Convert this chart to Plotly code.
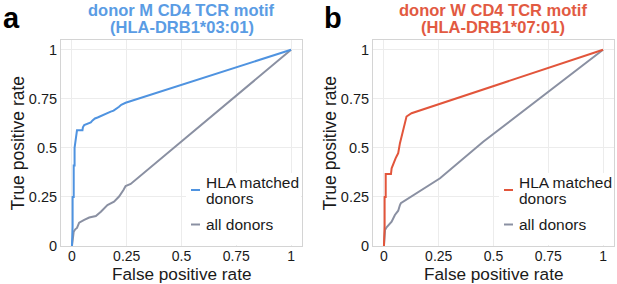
import plotly.graph_objects as go

W, H = 617, 284

# ---- data ----
tick_vals = [0, 0.25, 0.5, 0.75, 1]
tick_text = ["0", "0.25", "0.5", "0.75", "1"]

# panel a: donor M CD4 TCR motif (HLA-DRB1*03:01)
fpr_m_hla = [0, 0.003, 0.003, 0.008, 0.008, 0.012, 0.012, 0.018, 0.020, 0.023, 0.048, 0.050,
             0.056, 0.064, 0.075, 0.086, 0.094, 0.105, 0.117, 0.140, 0.155, 0.177, 0.190,
             0.205, 0.215, 0.225, 0.245, 1.0]
tpr_m_hla = [0, 0.10, 0.25, 0.25, 0.41, 0.41, 0.50, 0.54, 0.56, 0.59, 0.59, 0.605,
             0.617, 0.62, 0.625, 0.63, 0.64, 0.65, 0.655, 0.668, 0.675, 0.685, 0.69,
             0.70, 0.71, 0.72, 0.73, 1.0]
fpr_m_all = [0, 0.003, 0.008, 0.015, 0.023, 0.033, 0.045, 0.056, 0.079, 0.109, 0.132,
             0.162, 0.192, 0.215, 0.235, 0.245, 0.268, 1.0]
tpr_m_all = [0, 0.04, 0.073, 0.085, 0.092, 0.119, 0.128, 0.133, 0.145, 0.153, 0.175,
             0.209, 0.226, 0.252, 0.285, 0.306, 0.316, 1.0]

# panel b: donor W CD4 TCR motif (HLA-DRB1*07:01)
fpr_w_hla = [0, 0.003, 0.003, 0.008, 0.008, 0.032, 0.035, 0.042, 0.053, 0.059, 0.065,
             0.073, 0.080, 0.088, 0.095, 0.103, 0.126, 1.0]
tpr_w_hla = [0, 0.10, 0.25, 0.25, 0.367, 0.367, 0.396, 0.42, 0.447, 0.46, 0.473,
             0.524, 0.558, 0.59, 0.634, 0.66, 0.677, 1.0]
fpr_w_all = [0, 0.003, 0.005, 0.012, 0.020, 0.035, 0.050, 0.065, 0.073, 0.077, 0.256,
             0.453, 1.0]
tpr_w_all = [0, 0.05, 0.082, 0.095, 0.107, 0.124, 0.158, 0.180, 0.209, 0.218, 0.345,
             0.531, 1.0]

legend_labels = ["HLA matched", "donors", "all donors"]
titles_a = ["donor M CD4 TCR motif", "(HLA-DRB1*03:01)"]
titles_b = ["donor W CD4 TCR motif", "(HLA-DRB1*07:01)"]

# ---- styling ----
BLUE = "#4F93E0"
RED = "#E2553B"
GRAY = "#8A90A2"
BLUE_T = "#5A9CE4"
RED_T = "#E25A42"
FONT = "Liberation Sans, Arial, Helvetica, sans-serif"
TXT = "#1a1a1a"


def px(x):
    return x / W


def py(y):
    return 1 - y / H


fig = go.Figure()
fig.add_trace(go.Scatter(x=fpr_m_all, y=tpr_m_all, mode="lines", line=dict(color=GRAY, width=2),
                         xaxis="x", yaxis="y", showlegend=False, name="all donors"))
fig.add_trace(go.Scatter(x=fpr_m_hla, y=tpr_m_hla, mode="lines", line=dict(color=BLUE, width=2),
                         xaxis="x", yaxis="y", showlegend=False, name="HLA matched donors"))
fig.add_trace(go.Scatter(x=fpr_w_all, y=tpr_w_all, mode="lines", line=dict(color=GRAY, width=2),
                         xaxis="x2", yaxis="y2", showlegend=False, name="all donors"))
fig.add_trace(go.Scatter(x=fpr_w_hla, y=tpr_w_hla, mode="lines", line=dict(color=RED, width=2),
                         xaxis="x2", yaxis="y2", showlegend=False, name="HLA matched donors"))

panels = [
    # (x-left px, x-right px, x offset px)
    (61, 302, 0),
    (373, 614, 313),
]

ax_common = dict(
    range=[-0.05, 1.05], tickvals=tick_vals, ticktext=tick_text, automargin=False,
    showline=True, mirror=True, linecolor="#d4d4d4", linewidth=1,
    showgrid=True, gridcolor="#ececec", gridwidth=1, zeroline=False,
    ticks="", ticklabelstandoff=-3,
    tickfont=dict(family=FONT, size=14, color=TXT), fixedrange=True,
)
ay_common = dict(
    range=[0, 1.05], tickvals=tick_vals, ticktext=tick_text, automargin=False,
    showline=True, mirror=True, linecolor="#d4d4d4", linewidth=1,
    showgrid=True, gridcolor="#ececec", gridwidth=1, zeroline=False,
    ticks="", tickfont=dict(family=FONT, size=14.5, color=TXT), fixedrange=True,
)

ydom = [py(246), py(40)]
fig.update_layout(
    width=W, height=H, margin=dict(l=0, r=0, t=0, b=0, autoexpand=False),
    paper_bgcolor="white", plot_bgcolor="white", showlegend=False,
    xaxis=dict(domain=[px(61), px(302)], anchor="y", **ax_common),
    yaxis=dict(domain=ydom, anchor="x", **ay_common),
    xaxis2=dict(domain=[px(373), px(614)], anchor="y2", **ax_common),
    yaxis2=dict(domain=ydom, anchor="x2", **ay_common),
)

shapes = []
annotations = []
for (xl, xr, dx), titles, tcol, ccol, letter in [
    (panels[0], titles_a, BLUE_T, BLUE, "a"),
    (panels[1], titles_b, RED_T, RED, "b"),
]:
    cx = (xl + xr) / 2
    # panel letter
    annotations.append(dict(text=f"<b>{letter}</b>", x=px(xl - 60 + (0 if letter == "a" else 9)),
                            y=py(18), xref="paper", yref="paper", xanchor="left", yanchor="middle",
                            showarrow=False, font=dict(family=FONT, size=29, color="black")))
    # titles
    for t, yc in zip(titles, [9.5, 27]):
        annotations.append(dict(text=f"<b>{t}</b>", x=px(cx), y=py(yc), xref="paper", yref="paper",
                                xanchor="center", yanchor="middle", showarrow=False,
                                font=dict(family=FONT, size=16.5, color=tcol)))
    # axis titles
    annotations.append(dict(text="False positive rate", x=px(cx), y=py(274), xref="paper",
                            yref="paper", xanchor="center", yanchor="middle", showarrow=False,
                            borderpad=0, font=dict(family=FONT, size=17.2, color=TXT)))
    annotations.append(dict(text="True positive rate", x=px(xl - 43.5), y=py(143), xref="paper",
                            yref="paper", xanchor="center", yanchor="middle", showarrow=False,
                            textangle=-90, font=dict(family=FONT, size=17.5, color=TXT)))
    # legend box
    shapes.append(dict(type="rect", xref="paper", yref="paper", x0=px(186 + dx), x1=px(301 + dx),
                       y0=py(245), y1=py(173), fillcolor="white", line=dict(width=0), layer="above"))
    shapes.append(dict(type="line", xref="paper", yref="paper", x0=px(191 + dx), x1=px(200 + dx),
                       y0=py(190), y1=py(190), line=dict(color=ccol, width=2), layer="above"))
    shapes.append(dict(type="line", xref="paper", yref="paper", x0=px(191 + dx), x1=px(200 + dx),
                       y0=py(224.5), y1=py(224.5), line=dict(color=GRAY, width=2), layer="above"))
    for lab, yc in zip(legend_labels, [182.5, 198.5, 224.5]):
        annotations.append(dict(text=lab, x=px(204 + dx), y=py(yc), xref="paper", yref="paper",
                                xanchor="left", yanchor="middle", showarrow=False,
                                font=dict(family=FONT, size=15.5, color=TXT)))

fig.update_layout(shapes=shapes, annotations=annotations)
fig.write_html(
    "out.html",
    config={"displayModeBar": False},
    post_script="document.body.style.margin='0';document.body.style.overflow='hidden';",
)
